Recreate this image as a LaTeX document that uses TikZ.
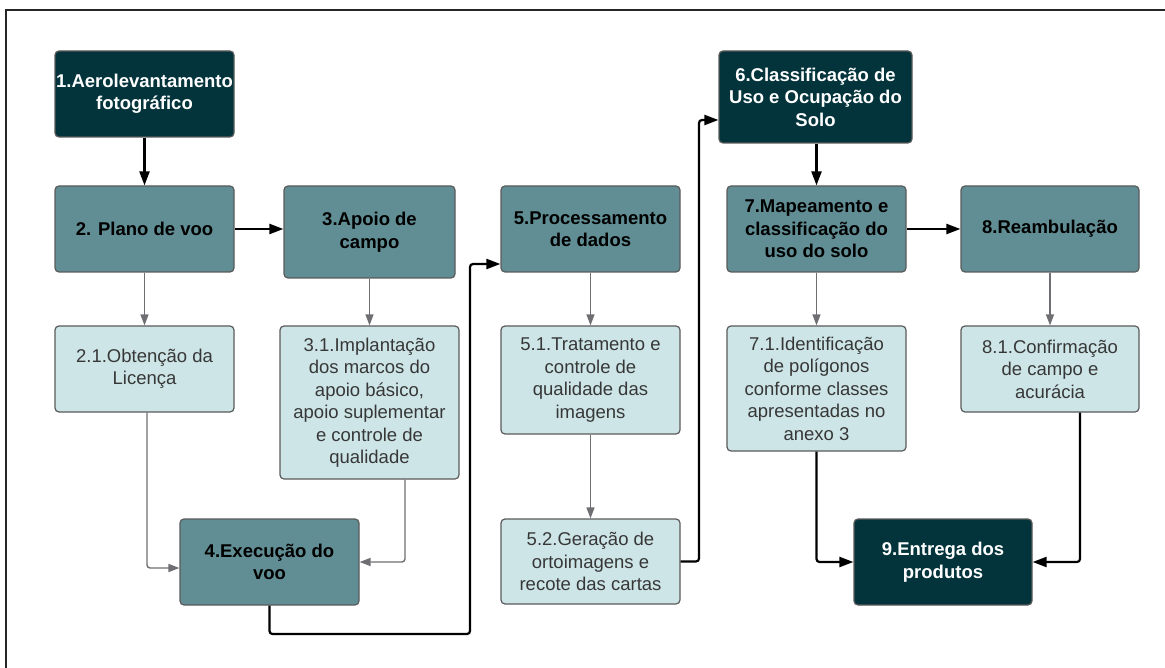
\documentclass[tikz,border=0pt]{standalone}
\usepackage{fontspec}
\setmainfont{Liberation Sans}
\usetikzlibrary{arrows.meta,positioning,calc}
\definecolor{solodark}{RGB}{3,52,60}
\definecolor{soloteal}{RGB}{96,142,148}
\definecolor{sololight}{RGB}{205,229,231}
\definecolor{soloedge}{RGB}{90,90,90}
\definecolor{sologray}{RGB}{110,110,115}
\definecolor{solotext}{RGB}{55,55,55}

\begin{document}
\begin{tikzpicture}[x=1pt,y=-1pt,
    box/.style={draw=soloedge, line width=1.2pt, rounded corners=4pt, inner sep=1pt,
        align=center, minimum width=179pt, minimum height=86pt},
    topbox/.style={box, fill=solodark, text=white, font=\fontsize{18.5}{22.5}\selectfont\bfseries},
    stepbox/.style={box, fill=soloteal, text=black, font=\fontsize{18.5}{22.5}\selectfont\bfseries},
    subbox/.style={box, fill=sololight, text=solotext, font=\fontsize{18.5}{22.5}\selectfont},
    mainarrow/.style={-{Triangle[length=14pt,width=10pt]}, line width=2.2pt, black, rounded corners=3pt},
    subarrow/.style={-{Triangle[length=11pt,width=8pt]}, line width=1.4pt, sologray, rounded corners=3pt}]
    \useasboundingbox (0,0) rectangle (1165,668);
    \draw[line width=1.5pt, black!85] (6,668) |- (1165,10);

    \node[topbox] (aero) at (144.5,94) {1.Aerolevantamento\\fotográfico};
    \node[stepbox] (plano) at (144.5,229) {2. Plano de voo};
    \node[stepbox, minimum width=171pt, minimum height=92pt] (apoio) at (369.5,232) {3.Apoio de\\campo};
    \node[subbox] (licenca) at (144.5,369) {2.1.Obtenção da\\Licença};
    \node[subbox, minimum height=153pt] (marcos) at (369.5,402.5) {3.1.Implantação\\dos marcos do\\apoio básico,\\apoio suplementar\\e controle de\\qualidade};
    \node[stepbox] (execucao) at (269.5,562) {4.Execução do\\voo};

    \node[stepbox] (proc) at (590.5,229) {5.Processamento\\de dados};
    \node[subbox, minimum height=108pt] (trat) at (590.5,380) {5.1.Tratamento e\\controle de\\qualidade das\\imagens};
    \node[subbox, minimum height=85pt] (orto) at (590.5,561.5) {5.2.Geração de\\ortoimagens e\\recote das cartas};

    \node[topbox, minimum width=193pt, minimum height=92pt] (classif) at (815.5,97) {6.Classificação de\\Uso e Ocupação do\\Solo};
    \node[stepbox] (mapa) at (816.5,229) {7.Mapeamento e\\classificação do\\uso do solo};
    \node[subbox, minimum height=125pt] (poligonos) at (816.5,388.5) {7.1.Identificação\\de polígonos\\conforme classes\\apresentadas no\\anexo 3};
    \node[stepbox, minimum width=178pt] (ramb) at (1050,229) {8.Reambulação};
    \node[subbox, minimum width=178pt] (confirm) at (1050,369) {8.1.Confirmação\\de campo e\\acurácia};
    \node[topbox, minimum width=178pt] (entrega) at (943,562) {9.Entrega dos\\produtos};

    % main flow
    \draw[mainarrow] (aero) -- (plano);
    \draw[mainarrow] (plano) -- (plano -| apoio.west);
    \coordinate (c45) at (470,634);
    \draw[mainarrow] (execucao.south) |- (c45) |- ([yshift=-35pt]proc.west);
    \coordinate (c56) at (699,120);
    \draw[mainarrow] (orto.east) -| (c56) -- ([yshift=-23pt]classif.west);
    \draw[mainarrow] (classif.south -| mapa) -- (mapa);
    \draw[mainarrow] (mapa) -- (ramb);
    \draw[mainarrow] (poligonos.south) |- (entrega.west);
    \draw[mainarrow] ([xshift=30pt]confirm.south) |- (entrega.east);

    % sub steps
    \draw[subarrow] (plano) -- (licenca);
    \draw[subarrow] (apoio) -- (marcos);
    \draw[subarrow] ([xshift=2.5pt]licenca.south) |- ([yshift=-6pt]execucao.west);
    \draw[subarrow] ([xshift=35.5pt]marcos.south) |- (execucao.east);
    \draw[subarrow] (proc) -- (trat);
    \draw[subarrow] (trat) -- (orto);
    \draw[subarrow] (mapa) -- (poligonos);
    \draw[subarrow] (ramb) -- (confirm);
\end{tikzpicture}
\end{document}
